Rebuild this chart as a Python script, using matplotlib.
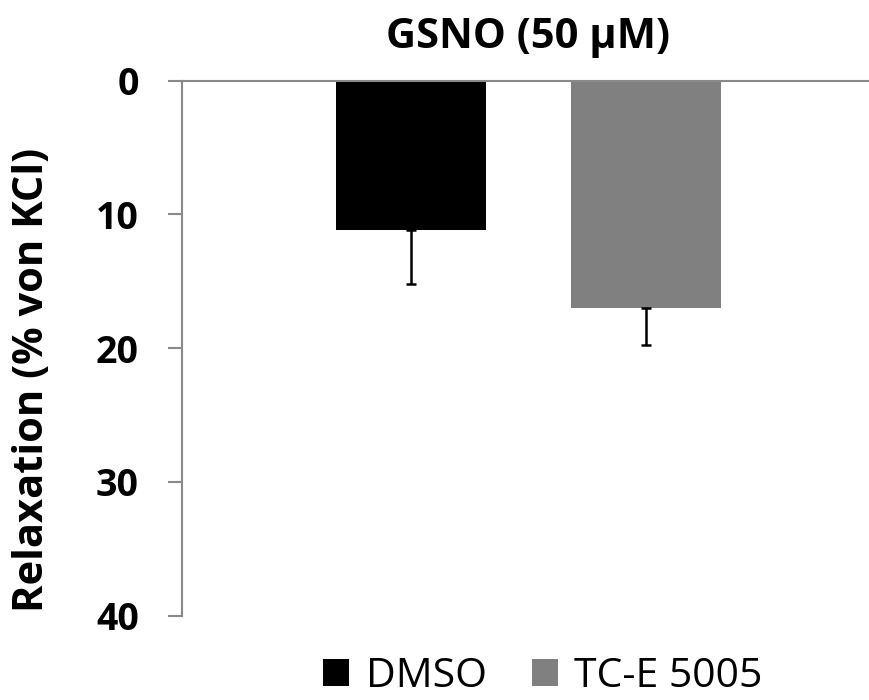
import matplotlib
matplotlib.use("Agg")
import matplotlib.pyplot as plt
from matplotlib.patches import Patch

categories = ["DMSO", "TC-E 5005"]
values = [11.2, 17.0]
errors = [4.0, 2.8]
colors = ["#000000", "#808080"]
yticks = [0, 10, 20, 30, 40]

plt.rcParams['font.family'] = ['Open Sans', 'DejaVu Sans']

fig = plt.figure(figsize=(8.69, 7.0), dpi=100)
W, H = 869, 700
left, right = 182, 869
top, bottom = 80.7, 615.5
ax = fig.add_axes([left / W, 1 - bottom / H, (right - left) / W, (bottom - top) / H])

x = list(range(len(categories)))
ax.bar(x, values, width=0.638, color=colors, zorder=2)
ax.errorbar(x, values, yerr=[[0] * len(errors), errors], fmt='none',
            ecolor='black', elinewidth=1.8, capsize=3.8, capthick=1.8, zorder=3)

ax.set_ylim(40, 0)
ax.set_xlim(-0.974, 1.949)
ax.set_yticks(yticks)
ax.set_yticklabels([str(t) for t in yticks], fontsize=27, fontweight='bold')
ax.set_xticks([])
for s in ['right', 'bottom']:
    ax.spines[s].set_visible(False)
for s in ['left', 'top']:
    ax.spines[s].set_color('#898989')
    ax.spines[s].set_linewidth(1.5)
ax.tick_params(axis='y', length=10, width=1.5, color='#898989', pad=21)

fig.text(528 / W, 1 - 38 / H, "GSNO (50 µM)", ha='center', va='center',
         fontsize=30, fontweight='bold')
fig.text(33 / W, 1 - 380 / H, "Relaxation (% von KCl)", ha='center', va='center',
         rotation=90, fontsize=30, fontweight='bold')

handles = [Patch(facecolor=c, edgecolor='none') for c in colors]
fig.legend(handles, categories, loc='center', bbox_to_anchor=(543 / W, 1 - 677 / H),
           ncol=2, frameon=False, fontsize=29.5, handlelength=0.64, handleheight=0.64,
           handletextpad=0.4, columnspacing=1.1, borderpad=0, borderaxespad=0)

fig.savefig("out.png", dpi=100)
